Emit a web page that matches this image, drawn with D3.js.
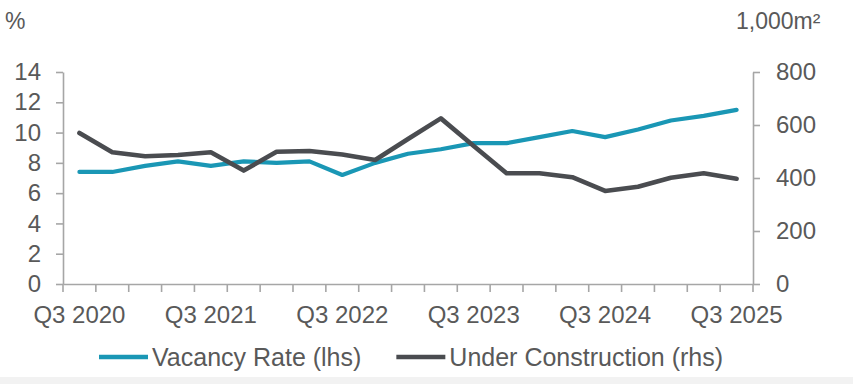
<!DOCTYPE html>
<meta charset="utf-8">
<title>Vacancy rate and under construction</title>
<style>

body {
  margin: 0;
  background: #fff;
  font-family: "Liberation Sans", Arial, sans-serif;
}

.axis path,
.axis line {
  fill: none;
  stroke: #a6a6a6;
  stroke-width: 1.6px;
}

.axis text {
  fill: #595959;
  font-size: 24px;
  font-family: "Liberation Sans", Arial, sans-serif;
}

.unit {
  fill: #595959;
  font-size: 23px;
}

.legend text {
  fill: #595959;
  font-size: 25px;
}

.line {
  fill: none;
  stroke-linejoin: round;
  stroke-linecap: round;
}

</style>
<body>
<script src="https://d3js.org/d3.v7.min.js"></script>
<script>

var quarters = ["Q3 2020", "Q4 2020", "Q1 2021", "Q2 2021", "Q3 2021", "Q4 2021",
  "Q1 2022", "Q2 2022", "Q3 2022", "Q4 2022", "Q1 2023", "Q2 2023", "Q3 2023",
  "Q4 2023", "Q1 2024", "Q2 2024", "Q3 2024", "Q4 2024", "Q1 2025", "Q2 2025", "Q3 2025"];

// vacancy rate, % (left axis)
var vacancyRate = [7.4, 7.4, 7.8, 8.1, 7.8, 8.1, 8.0, 8.1, 7.2, 8.0, 8.6,
  8.9, 9.3, 9.3, 9.7, 10.1, 9.7, 10.2, 10.8, 11.1, 11.5];

// under construction, 1,000 m2 (right axis)
var underConstruction = [570, 497, 482, 487, 497, 428, 499, 502, 489, 468, 547,
  625, 521, 418, 418, 403, 351, 367, 401, 418, 397];

var leftTicks = [0, 2, 4, 6, 8, 10, 12, 14];
var rightTicks = [0, 200, 400, 600, 800];
var seriesNames = ["Vacancy Rate (lhs)", "Under Construction (rhs)"];
var seriesColors = ["#1a97b5", "#4a4c50"];

var margin = {top: 72, right: 100, bottom: 100, left: 63},
    width = 853 - margin.left - margin.right,
    height = 384 - margin.top - margin.bottom;

var x = d3.scaleBand()
    .domain(quarters)
    .range([0, width]);

var yLeft = d3.scaleLinear()
    .domain([0, 14])
    .range([height, 0]);

var yRight = d3.scaleLinear()
    .domain([0, 800])
    .range([height, 0]);

var root = d3.select("body").append("svg")
    .attr("width", 853)
    .attr("height", 384);

// light strip at the bottom edge of the picture
root.append("rect")
    .attr("x", 0)
    .attr("y", 377)
    .attr("width", 853)
    .attr("height", 7)
    .style("fill", "#f2f2f2");

root.append("text")
    .attr("class", "unit")
    .attr("x", 5)
    .attr("y", 29)
    .text("%");

root.append("text")
    .attr("class", "unit")
    .attr("x", 736)
    .attr("y", 29)
    .text("1,000m²");

var svg = root.append("g")
    .attr("transform", "translate(" + margin.left + "," + margin.top + ")");

svg.append("g")
    .attr("class", "y axis")
    .call(d3.axisLeft(yLeft)
      .tickValues(leftTicks)
      .tickSize(7)
      .tickSizeOuter(0)
      .tickPadding(15));

svg.append("g")
    .attr("class", "y axis")
    .attr("transform", "translate(" + width + ",0)")
    .call(d3.axisRight(yRight)
      .tickValues(rightTicks)
      .tickSize(7)
      .tickSizeOuter(0)
      .tickPadding(16));

var xAxis = svg.append("g")
    .attr("class", "x axis")
    .attr("transform", "translate(0," + height + ")")
    .call(d3.axisBottom(x)
      .tickSize(0)
      .tickSizeOuter(0)
      .tickPadding(22)
      .tickFormat(function(d) { return d.indexOf("Q3") === 0 ? d : ""; }));

// tick marks sit between the quarters
var bounds = quarters.map(function(d) { return x(d); }).concat([width]);
xAxis.selectAll(".bound")
    .data(bounds)
  .enter().append("line")
    .attr("class", "bound")
    .attr("x1", function(d) { return d; })
    .attr("x2", function(d) { return d; })
    .attr("y1", 0)
    .attr("y2", 8);

var cx = function(i) { return x(quarters[i]) + x.bandwidth() / 2; };

var vacancyLine = d3.line()
    .x(function(d, i) { return cx(i); })
    .y(function(d) { return yLeft(d); });

var constructionLine = d3.line()
    .x(function(d, i) { return cx(i); })
    .y(function(d) { return yRight(d); });

svg.append("path")
    .datum(vacancyRate)
    .attr("class", "line")
    .style("stroke", seriesColors[0])
    .style("stroke-width", 4.2)
    .attr("d", vacancyLine);

svg.append("path")
    .datum(underConstruction)
    .attr("class", "line")
    .style("stroke", seriesColors[1])
    .style("stroke-width", 4.6)
    .attr("d", constructionLine);

// legend
var legend = root.append("g")
    .attr("class", "legend")
    .attr("transform", "translate(99,357)");

var offset = 0;
seriesNames.forEach(function(name, i) {
  var item = legend.append("g")
      .attr("transform", "translate(" + offset + ",0)");
  item.append("line")
      .attr("x1", 0)
      .attr("x2", 49)
      .attr("y1", 0)
      .attr("y2", 0)
      .style("stroke", seriesColors[i])
      .style("stroke-width", 4.5);
  var t = item.append("text")
      .attr("x", 53)
      .attr("dy", ".35em")
      .text(name);
  offset += 53 + t.node().getComputedTextLength() + 35;
});

</script>
</body>
